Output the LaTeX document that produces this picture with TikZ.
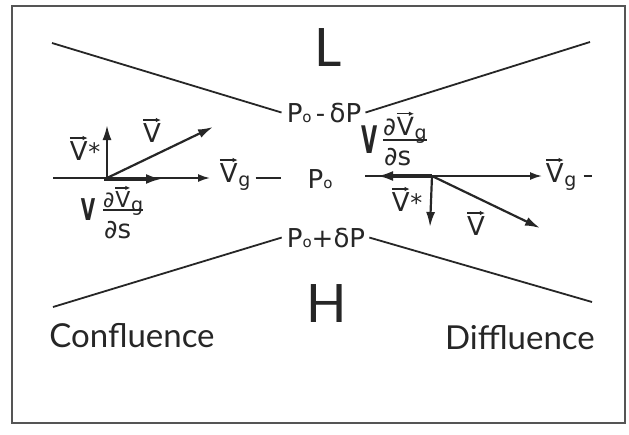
\documentclass[tikz,border=0pt]{standalone}
\usepackage{fontspec}
\usepackage{graphicx}
\setmainfont{Lato}
\newfontfamily\labfont{DejaVu Sans}
\usetikzlibrary{arrows.meta}
\definecolor{ink}{HTML}{262626}
\definecolor{framec}{HTML}{555555}
\newcommand\vv[1]{\tikz[baseline=(vvt.base)]{\node[inner sep=0pt,outer sep=0pt] (vvt) {#1};\draw[ink,line width=1.4pt,-{Latex[length=5pt,width=4.5pt]}] ([yshift=3pt]vvt.north west) -- ([yshift=3pt]vvt.north east);}}
\newcommand\osub{{\fontsize{15}{15}\selectfont o}}
\newcommand\gsub[1]{\raisebox{-#1}{\fontsize{19}{19}\selectfont g}}
\newcommand\astsup{\raisebox{0pt}{\fontsize{24}{24}\selectfont *}}
\tikzset{
  lbl/.style={font=\labfont\fontsize{26}{30}\selectfont, inner sep=0pt, text=ink},
  frl/.style={font=\labfont\fontsize{#1}{#1}\selectfont, inner sep=0pt, text=ink},
  big/.style={font=\fontsize{53}{60}\selectfont, inner sep=0pt, text=ink},
  word/.style={font=\fontsize{33}{40}\selectfont, inner sep=0pt, text=ink},
  diag/.style={ink, line width=1.8pt},
  axline/.style={ink, line width=1.8pt},
  axarr/.style={axline, -{Latex[length=12pt,width=8pt]}},
  vecarr/.style={ink, line width=2.2pt, -{Latex[length=15pt,width=9pt]}},
  thickarr/.style={ink, line width=4.5pt, -{Latex[length=16pt,width=10pt]}},
  fracbar/.style={ink, line width=1.6pt},
}
\begin{document}
\begin{tikzpicture}[x=1pt,y=-1pt]
\useasboundingbox (0,0) rectangle (629,434);
\fill[white] (0,0) rectangle (629,434);
\draw[framec, line width=1.5pt] (12,6) rectangle (625,423);

% big letters and words
\node[big] (L) at (328,48) {L};
\node[big] (H) at (327,304) {H};
\node[word, anchor=base] (conf) at (132,347) {Confluence};
\node[word, anchor=base] (diff) at (520,349) {Diffluence};

% pressure labels
\node[lbl, anchor=base] (pm) at (324,122) {P\osub\,-\,δP};
\node[lbl, anchor=base] (p0) at (320,188) {P\osub};
\node[lbl, anchor=base] (pp) at (326,247) {P\osub+δP};

% isobars
\coordinate (tl) at (52,43);
\coordinate (tr) at (590,42);
\coordinate (bl) at (53,307);
\coordinate (br) at (592,302);
\draw[diag] (tl) -- ([xshift=-5pt]pm.west);
\draw[diag] ([xshift=4pt]pm.east) -- (tr);
\draw[diag] (bl) -- ([xshift=-5pt]pp.west);
\draw[diag] ([xshift=4pt]pp.east) -- (br);

% ---------- left (confluence) ----------
\coordinate (OL) at (107,178);
\coordinate (axL) at (53,178);
\coordinate (vsL) at (107,125);
\coordinate (vL) at (213,127);
\coordinate (gL) at (162,179);
\coordinate (gL0) at (104,179);
\node[lbl, anchor=base west] (vgL) at (219,182) {\vv{V}\gsub{4pt}};
\path (vgL.west |- OL) coordinate (vgLw) (vgL.east |- OL) coordinate (vgLe) (p0.west |- OL) coordinate (p0w);
\draw[axarr, shorten >=9pt] (axL) -- (vgLw);
\draw[axline, shorten <=5pt, shorten >=26pt] (vgLe) -- (p0w);
\draw[vecarr] (OL) -- (vsL);
\draw[vecarr] (OL) -- (vL);
\draw[thickarr] (gL0) -- (gL);
\node[lbl, anchor=base west] (vsLlab) at (69,160) {\vv{V}\astsup};
\node[lbl, anchor=base] (vLlab) at (152,142) {\vv{V}};
\node[frl=30, anchor=base, font=\labfont\bfseries\fontsize{30}{30}\selectfont] (VL) at (88,220) {\scalebox{0.62}[1]{V}};
\node[frl=22, anchor=base west] (nL) at (103,207) {∂\vv{V}\gsub{4pt}};
\draw[fracbar] ([yshift=-3pt]nL.base west) -- ([yshift=-3pt]nL.base east);
\node[frl=26, anchor=base west] (dL) at (104,238) {∂s};

% ---------- right (diffluence) ----------
\coordinate (OR) at (432,176);
\coordinate (axR) at (365,176);
\coordinate (vsR) at (430,227);
\coordinate (vR) at (540,228);
\coordinate (gR) at (377,176);
\coordinate (dashR) at (592,176);
\node[lbl, anchor=base west] (vgR) at (545,182) {\vv{V}\gsub{4pt}};
\path (vgR.west |- OR) coordinate (vgRw) (vgR.east |- OR) coordinate (vgRe);
\draw[axarr, shorten >=3pt] (axR) -- (vgRw);
\draw[axline, shorten <=7pt] (vgRe) -- (dashR);
\draw[thickarr] (OR) -- (gR);
\draw[vecarr] (OR) -- (vsR);
\draw[vecarr] (OR) -- (vR);
\node[lbl, anchor=base west] (vsRlab) at (391,211) {\vv{V}\astsup};
\node[lbl, anchor=base] (vRlab) at (476,235) {\vv{V}};
\node[frl=38, anchor=base, font=\labfont\bfseries\fontsize{38}{38}\selectfont] (VR) at (370,153) {\scalebox{0.55}[1]{V}};
\node[frl=25, anchor=base west] (nR) at (383,135) {∂\vv{V}\gsub{4pt}};
\draw[fracbar] ([yshift=-5pt]nR.base west) -- ([yshift=-5pt]nR.base east);
\node[frl=26, anchor=base west] (dR) at (384,165) {∂s};
\end{tikzpicture}
\end{document}
